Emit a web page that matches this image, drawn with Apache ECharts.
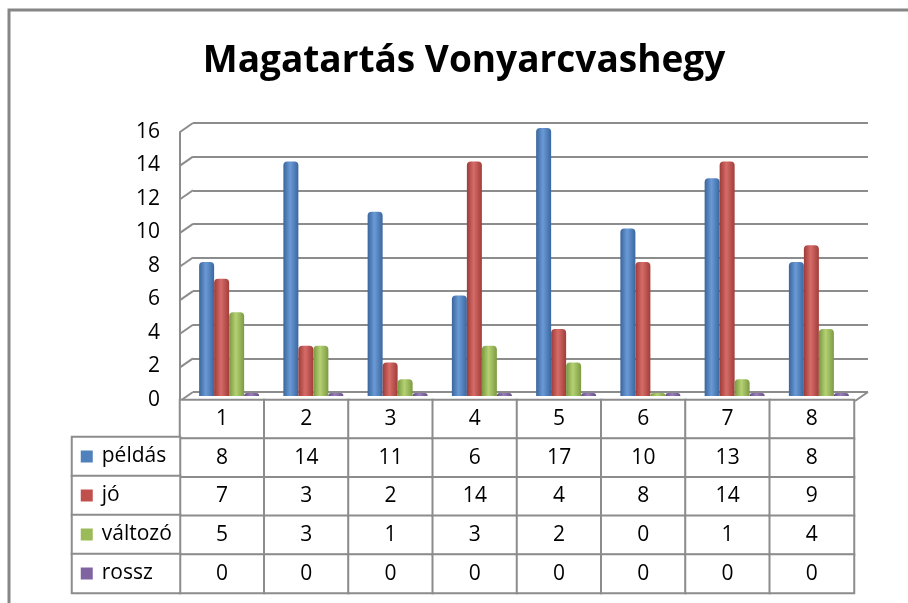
<!DOCTYPE html>
<html>
<head>
<meta charset="utf-8">
<script src="https://cdn.jsdelivr.net/npm/echarts@6/dist/echarts.min.js"></script>
<style>
  html, body { margin: 0; padding: 0; background: #fff; }
  #chart { width: 908px; height: 603px; }
</style>
</head>
<body>
<div id="chart"></div>
<script>
const categories = ['1', '2', '3', '4', '5', '6', '7', '8']
const seriesNames = ['példás', 'jó', 'változó', 'rossz']
const peldas = [8, 14, 11, 6, 17, 10, 13, 8]
const jo = [7, 3, 2, 14, 4, 8, 14, 9]
const valtozo = [5, 3, 1, 3, 2, 0, 1, 4]
const rossz = [0, 0, 0, 0, 0, 0, 0, 0]
const yTicks = [0, 2, 4, 6, 8, 10, 12, 14, 16]

const values = [peldas, jo, valtozo, rossz]
const colors = ['#4F81BD', '#C0504D', '#9BBB59', '#8064A2']
const shades = [
  ['#3a659c', '#6a9ad6', '#3b679f'],
  ['#9c3b38', '#d66c68', '#a13d3a'],
  ['#7a9741', '#b4d273', '#7d9a43'],
  ['#654d86', '#9a80bb', '#664e88']
]
const font = '"Open Sans", sans-serif'
const lineGray = '#8c8c8c'

const chart = echarts.init(document.getElementById('chart'))

const cylinder = (i) => new echarts.graphic.LinearGradient(0, 0, 1, 0, [
  { offset: 0, color: shades[i][0] },
  { offset: 0.45, color: shades[i][1] },
  { offset: 1, color: shades[i][2] }
])

// table cells: header row + one row per series
const tableCells = []
categories.forEach((c, x) => {
  tableCells.push([x, 0, Number(c)])
  values.forEach((arr, s) => tableCells.push([x, s + 1, arr[x]]))
})

const option = {
  animation: false,
  backgroundColor: '#fff',
  title: {
    text: 'Magatartás Vonyarcvashegy',
    left: 459,
    top: 38,
    textAlign: 'center',
    textStyle: { fontFamily: font, fontSize: 37, fontWeight: 'bold', color: '#000' }
  },
  graphic: [{
    type: 'rect',
    shape: { x: 9, y: 10, width: 1000, height: 700 },
    style: { fill: 'none', stroke: '#868686', lineWidth: 3 },
    silent: true
  }],
  grid: [
    // back wall
    { left: 193, right: 40, top: 123, bottom: 211 },
    // front edge with labels
    { left: 180, width: 674, top: 132, bottom: 203 },
    // bars (mid depth)
    { left: 187, width: 674, top: 128, bottom: 207 },
    // data table
    { left: 180, width: 674, top: 400, bottom: 10 },
    // legend column of the table
    { left: 72, width: 108, top: 437, bottom: 10 }
  ],
  xAxis: [
    { gridIndex: 0, type: 'value', min: 0, max: 1, show: false },
    { gridIndex: 1, type: 'category', data: categories, show: false },
    { gridIndex: 2, type: 'category', data: categories, show: false },
    { gridIndex: 3, type: 'category', data: categories, show: false },
    { gridIndex: 4, type: 'category', data: ['k'], show: false }
  ],
  yAxis: [
    {
      gridIndex: 0, type: 'value', min: 0, max: 16, interval: 2,
      axisLine: { show: false }, axisTick: { show: false }, axisLabel: { show: false },
      splitLine: { lineStyle: { color: lineGray, width: 2 } }
    },
    {
      gridIndex: 1, type: 'value', min: 0, max: 16, interval: 2,
      axisLine: { show: true, lineStyle: { color: lineGray, width: 2 } },
      axisTick: { show: false },
      splitLine: { show: false },
      axisLabel: { color: '#000', fontFamily: font, fontSize: 21, margin: 20 }
    },
    { gridIndex: 2, type: 'value', min: 0, max: 16, show: false },
    { gridIndex: 3, type: 'category', data: ['h'].concat(seriesNames), inverse: true, show: false },
    { gridIndex: 4, type: 'category', data: seriesNames, inverse: true, show: false }
  ],
  series: [
    {
      type: 'custom',
      xAxisIndex: 0, yAxisIndex: 0,
      silent: true,
      data: yTicks.map(v => [0, v]).concat([[1, 0]]),
      renderItem: (params, api) => {
        const p = api.coord([api.value(0), api.value(1)])
        return {
          type: 'line',
          shape: { x1: p[0], y1: p[1], x2: p[0] - 13, y2: p[1] + 9 },
          style: { stroke: lineGray, lineWidth: 2 }
        }
      }
    },
    ...seriesNames.map((name, i) => ({
      name,
      type: 'bar',
      xAxisIndex: 2, yAxisIndex: 2,
      data: values[i],
      barWidth: 15,
      barGap: '0%',
      barMinHeight: 3,
      itemStyle: { color: cylinder(i), borderRadius: [4, 4, 0, 0] }
    })),
    {
      type: 'heatmap',
      xAxisIndex: 3, yAxisIndex: 3,
      silent: true,
      data: tableCells,
      itemStyle: { color: '#fff', borderColor: lineGray, borderWidth: 2 },
      label: {
        show: true,
        color: '#000',
        fontFamily: font,
        fontSize: 21,
        formatter: p => p.data[1] === 0 ? categories[p.data[0]] : String(p.data[2])
      }
    },
    {
      type: 'heatmap',
      xAxisIndex: 4, yAxisIndex: 4,
      silent: true,
      data: seriesNames.map((n, i) => [0, i, i]),
      itemStyle: { color: '#fff', borderColor: lineGray, borderWidth: 2 },
      label: {
        show: true,
        position: 'insideLeft',
        distance: 10,
        color: '#000',
        formatter: p => '{s' + p.data[2] + '|}{t|' + seriesNames[p.data[2]] + '}',
        rich: {
          t: { fontFamily: font, fontSize: 21, color: '#000', padding: [0, 0, 0, 9] },
          s0: { width: 12, height: 12, backgroundColor: colors[0] },
          s1: { width: 12, height: 12, backgroundColor: colors[1] },
          s2: { width: 12, height: 12, backgroundColor: colors[2] },
          s3: { width: 12, height: 12, backgroundColor: colors[3] }
        }
      }
    }
  ]
}

chart.setOption(option)
</script>
</body>
</html>
